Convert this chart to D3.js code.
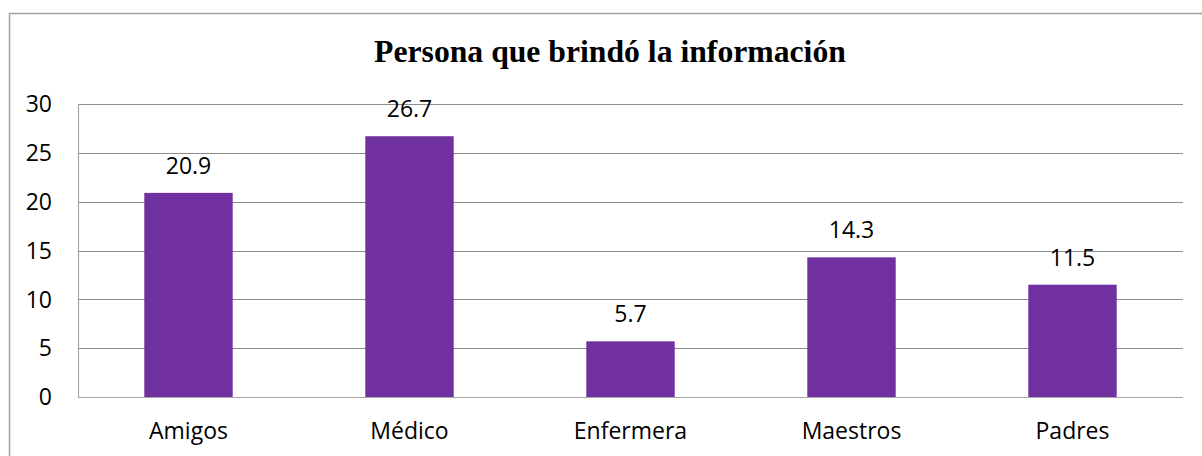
<!DOCTYPE html>
<html>
<head>
<meta charset="utf-8">
<script src="https://cdn.jsdelivr.net/npm/d3@7"></script>
<style>
  body { margin: 0; background: #fff; }
  svg text { font-family: "Open Sans", "Liberation Sans", sans-serif; fill: #000; }
</style>
</head>
<body>
<div id="chart"></div>
<script>
// chart data
var categories = ["Amigos", "Médico", "Enfermera", "Maestros", "Padres"];
var values = [20.9, 26.7, 5.7, 14.3, 11.5];
var yTicks = [0, 5, 10, 15, 20, 25, 30];
var title = "Persona que brindó la información";

BarChart();

function BarChart() {
    var w = 1202, h = 456;
    var left = 78, right = 1183, top = 104, bottom = 397;

    var svg = d3.select("#chart").append("svg")
        .attr("width", w)
        .attr("height", h);

    // outer chart border (right/bottom edges fall off the page)
    svg.append("rect")
        .attr("x", 9.5).attr("y", 13.5)
        .attr("width", 1210).attr("height", 470)
        .attr("fill", "none")
        .attr("stroke", "#a0a0a0")
        .attr("stroke-width", 1.5);

    var x = d3.scaleBand()
        .domain(categories)
        .range([left, right])
        .paddingInner(0.6)
        .paddingOuter(0.3);

    var y = d3.scaleLinear().domain([0, 30]).range([bottom, top]);

    // gridlines
    svg.append("g").selectAll("line")
        .data(yTicks)
        .enter().append("line")
        .attr("x1", left).attr("x2", right)
        .attr("y1", function(d) { return Math.round(y(d)) + 0.5; })
        .attr("y2", function(d) { return Math.round(y(d)) + 0.5; })
        .attr("stroke", function(d) { return d === 0 ? "#a6a6a6" : "#8c8c8c"; })
        .attr("stroke-width", 1.2);

    // left axis line
    svg.append("line")
        .attr("x1", left + 0.5).attr("x2", left + 0.5)
        .attr("y1", top).attr("y2", bottom)
        .attr("stroke", "#a6a6a6").attr("stroke-width", 1.2);

    // y tick labels
    svg.append("g").selectAll("text")
        .data(yTicks)
        .enter().append("text")
        .attr("x", 52)
        .attr("y", function(d) { return y(d); })
        .attr("dy", "0.36em")
        .attr("text-anchor", "end")
        .style("font-size", "23px")
        .text(function(d) { return d; });

    // bars
    svg.append("g").selectAll("rect")
        .data(values)
        .enter().append("rect")
        .attr("x", function(d, i) { return x(categories[i]); })
        .attr("y", function(d) { return y(d); })
        .attr("width", x.bandwidth())
        .attr("height", function(d) { return bottom - y(d); })
        .attr("fill", "#7030a0");

    // value labels
    svg.append("g").selectAll("text")
        .data(values)
        .enter().append("text")
        .attr("x", function(d, i) { return x(categories[i]) + x.bandwidth() / 2; })
        .attr("y", function(d) { return y(d) - 19; })
        .attr("text-anchor", "middle")
        .style("font-size", "23px")
        .text(function(d) { return d.toFixed(1); });

    // category labels
    svg.append("g").selectAll("text")
        .data(categories)
        .enter().append("text")
        .attr("x", function(d) { return x(d) + x.bandwidth() / 2; })
        .attr("y", 439)
        .attr("text-anchor", "middle")
        .style("font-size", "23px")
        .text(function(d) { return d; });

    // title
    svg.append("text")
        .attr("x", 610)
        .attr("y", 62)
        .attr("text-anchor", "middle")
        .style("font-family", "'Liberation Serif', 'Times New Roman', serif")
        .style("font-weight", "bold")
        .style("font-size", "31.7px")
        .text(title);
}
</script>
</body>
</html>
